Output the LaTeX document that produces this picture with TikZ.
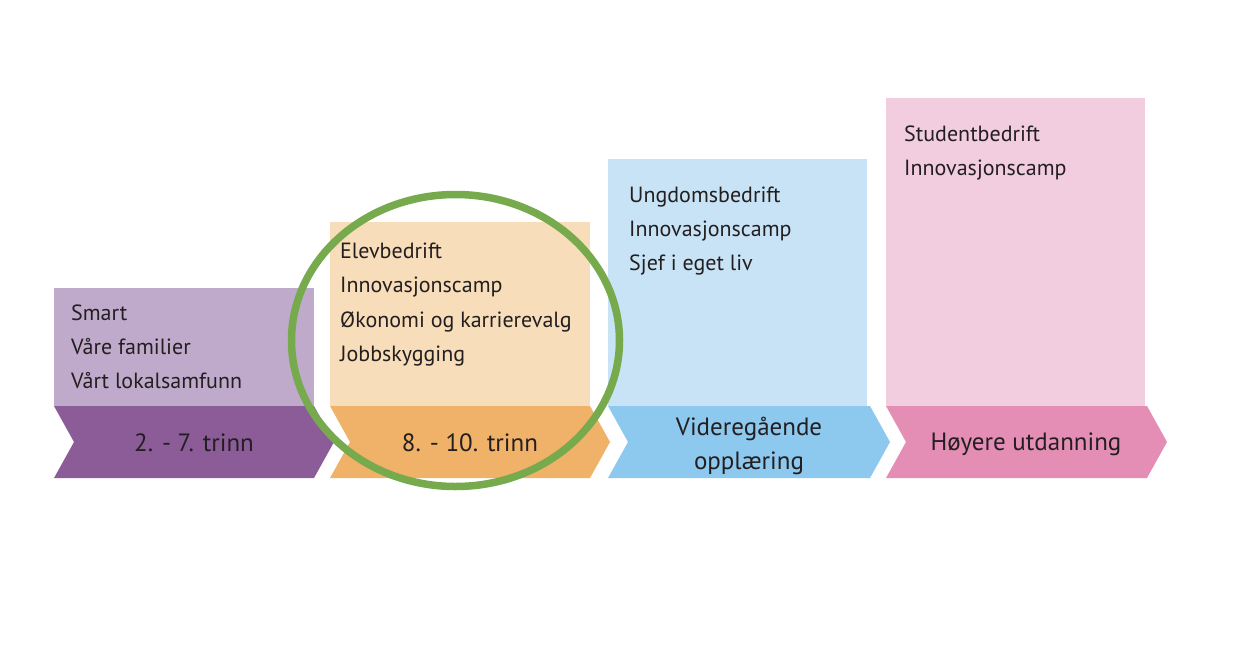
\documentclass[tikz,border=0pt]{standalone}
\usepackage{fontspec}
\setmainfont{PT Sans}
\begin{document}
\begin{tikzpicture}[x=1pt,y=-1pt,
  item/.style={anchor=base west,inner sep=0pt,font=\fontsize{22}{26}\selectfont,text=txt},
  lbl/.style={anchor=center,inner sep=0pt,align=center,font=\fontsize{25}{34}\selectfont,text=txt}]
\definecolor{txt}{HTML}{231F20}
\definecolor{pdark}{HTML}{8C5C98}
\definecolor{plight}{HTML}{C0AACB}
\definecolor{odark}{HTML}{F0B169}
\definecolor{olight}{HTML}{F7DDB9}
\definecolor{bdark}{HTML}{8DC8EE}
\definecolor{blight}{HTML}{C8E3F6}
\definecolor{kdark}{HTML}{E58EB5}
\definecolor{klight}{HTML}{F2CDE0}
\definecolor{grn}{HTML}{76AA4C}
\useasboundingbox[fill=white] (0,0) rectangle (1240,665);
% light boxes
\fill[plight] (54,288) rectangle (314,406);
\fill[olight] (330,222) rectangle (590,406);
\fill[blight] (608,159) rectangle (867,406);
\fill[klight] (886,98) rectangle (1145,406);
% chevrons
\fill[pdark] (54,406) -- (314,406) -- (334,442) -- (314,478) -- (54,478) -- (74,442) -- cycle;
\fill[odark] (330,406) -- (590,406) -- (610,442) -- (590,478) -- (330,478) -- (350,442) -- cycle;
\fill[bdark] (608,406) -- (870,406) -- (890,442) -- (870,478) -- (608,478) -- (628,442) -- cycle;
\fill[kdark] (886,406) -- (1147,406) -- (1167,442) -- (1147,478) -- (886,478) -- (906,442) -- cycle;
% items
\node[item] (a1) at (71,320) {Smart};
\node[item] (a2) at (71,354) {Våre familier};
\node[item] (a3) at (71,388) {Vårt lokalsamfunn};
\node[item] (b1) at (340,258) {Elevbedrift};
\node[item] (b2) at (340,292) {Innovasjonscamp};
\node[item] (b3) at (340,327) {Økonomi og karrierevalg};
\node[item] (b4) at (340,361) {Jobbskygging};
\node[item] (c1) at (629,202) {Ungdomsbedrift};
\node[item] (c2) at (629,236) {Innovasjonscamp};
\node[item] (c3) at (629,270) {Sjef i eget liv};
\node[item] (d1) at (904,141) {Studentbedrift};
\node[item] (d2) at (904,175) {Innovasjonscamp};
% labels
\node[lbl] (l1) at (194,443) {2. - 7. trinn};
\node[lbl] (l2) at (470,443) {8. - 10. trinn};
\node[lbl] (l3) at (749,446) {Videregående\\opplæring};
\node[lbl] (l4) at (1026,444) {Høyere utdanning};
% green ellipse
\draw[grn,line width=7.5pt] (455.5,340.5) ellipse [x radius=164, y radius=146];
\end{tikzpicture}
\end{document}
